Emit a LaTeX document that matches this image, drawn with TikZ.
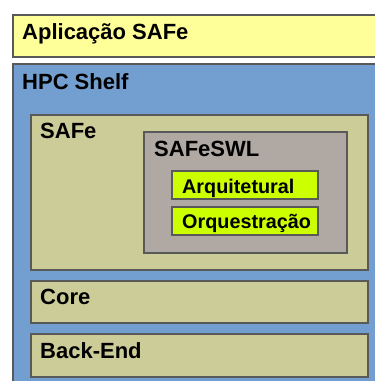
\documentclass[tikz,border=0pt]{standalone}
\usepackage{fontspec}
\setmainfont{Liberation Sans}
\begin{document}
\begin{tikzpicture}[x=1pt,y=-1pt,
  layer/.style={draw=black!65,line width=1.4pt},
  biglabel/.style={anchor=base west,inner sep=0pt,font=\bfseries\fontsize{22}{24}\selectfont},
  smalllabel/.style={anchor=base west,inner sep=0pt,font=\bfseries\fontsize{19.8}{22}\selectfont}]
\definecolor{appyellow}{RGB}{255,255,153}
\definecolor{shelfblue}{RGB}{114,159,207}
\definecolor{khaki}{RGB}{204,204,153}
\definecolor{swlgray}{RGB}{176,168,162}
\definecolor{lime}{RGB}{204,255,0}
\useasboundingbox (0,0) rectangle (375,381);
\clip (0,0) rectangle (375,381);
\fill[white] (0,0) rectangle (375,381);
% outer layers
\draw[layer,fill=appyellow] (13,15) rectangle (400,57);
\node[biglabel] (app) at (22,39.5) {Aplicação SAFe};
\draw[layer,fill=shelfblue] (13,64) rectangle (400,420);
\node[biglabel] (shelf) at (22,89) {HPC Shelf};
% SAFe and its workflow language
\draw[layer,fill=khaki] (31,115) rectangle (368,270);
\node[biglabel] (safe) at (40,138) {SAFe};
\draw[layer,fill=swlgray] (144,132) rectangle (347,253);
\node[biglabel] (swl) at (154,156) {SAFeSWL};
\draw[layer,fill=lime] (172,171) rectangle (318,199);
\node[smalllabel] (arq) at (182,193.3) {Arquitetural};
\draw[layer,fill=lime] (172,207) rectangle (318,235);
\node[smalllabel] (orq) at (182,228.3) {Orquestração};
% lower layers
\draw[layer,fill=khaki] (31,281) rectangle (368,323);
\node[biglabel] (core) at (40,304.3) {Core};
\draw[layer,fill=khaki] (31,334) rectangle (368,377);
\node[biglabel] (backend) at (40,358.3) {Back-End};
\end{tikzpicture}
\end{document}
